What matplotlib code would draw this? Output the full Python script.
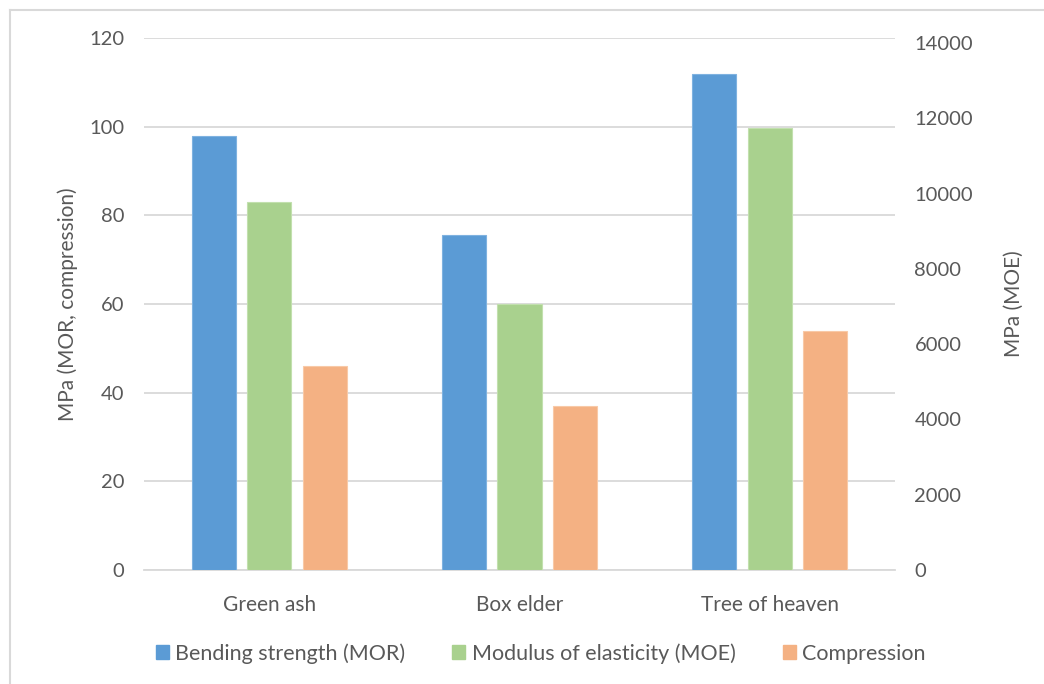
import matplotlib.pyplot as plt
from matplotlib.lines import Line2D
import numpy as np

plt.rcParams['font.family'] = ['Lato', 'DejaVu Sans']

# data
species = ['Green ash', 'Box elder', 'Tree of heaven']
mor = [97.9, 75.6, 111.8]          # MPa, left axis
moe = [9780, 7060, 11750]          # MPa, right axis
compression = [46.0, 37.1, 53.9]   # MPa, left axis

left_ticks = [0, 20, 40, 60, 80, 100, 120]
right_ticks = [0, 2000, 4000, 6000, 8000, 10000, 12000, 14000]

c_mor = '#5B9BD5'
c_moe = '#A9D18E'
c_comp = '#F4B183'
txt = '#595959'

fig = plt.figure(figsize=(10.44, 6.84), dpi=100)
ax = fig.add_axes([0.1379, 0.1667, 0.7194, 0.7777])
ax2 = ax.twinx()

x = np.arange(len(species))
w = 0.176
off = 0.222

ax.bar(x - off, mor, width=w, color=c_mor, edgecolor='#7FB2E0', linewidth=0.8, zorder=3)
ax2.bar(x, moe, width=w, color=c_moe, edgecolor='#C2E0AE', linewidth=0.8, zorder=3)
ax.bar(x + off, compression, width=w, color=c_comp, edgecolor='#F8C9A7', linewidth=0.8, zorder=3)

ax.set_xlim(-0.5, 2.5)
ax.set_ylim(0, 120)
ax2.set_ylim(0, 14130)
ax.set_yticks(left_ticks)
ax2.set_yticks(right_ticks)
ax.yaxis.grid(True, color='#D9D9D9', linewidth=1.3, zorder=0)
ax.set_axisbelow(True)

for a in (ax, ax2):
    for s in a.spines.values():
        s.set_visible(False)
    a.tick_params(length=0, labelsize=14.5, colors=txt, pad=14)
ax.tick_params(axis='x', pad=18, labelsize=15)
ax.set_xticks(x)
ax.set_xticklabels(species)
ax.spines['bottom'].set_visible(True)
ax.spines['bottom'].set_color('#D9D9D9')
ax.spines['bottom'].set_linewidth(1.3)

ax.set_ylabel('MPa (MOR, compression)', fontsize=15, color=txt, labelpad=8)
ax2.set_ylabel('MPa (MOE)', fontsize=15, color=txt, labelpad=22)

handles = [plt.Rectangle((0, 0), 1, 1, color=c) for c in (c_mor, c_moe, c_comp)]
fig.legend(handles, ['Bending strength (MOR)', 'Modulus of elasticity (MOE)', 'Compression'],
           loc='center', bbox_to_anchor=(0.518, 0.045), ncol=3, frameon=False,
           fontsize=15.5, labelcolor=txt, handlelength=0.6, handleheight=0.6,
           handletextpad=0.3, columnspacing=2.2)

# outer chart frame (only left and top edges show)
fig.add_artist(Line2D([10 / 1044, 10 / 1044], [0, 1 - 10 / 684], color='#D9D9D9', lw=1.5))
fig.add_artist(Line2D([10 / 1044, 1], [1 - 10 / 684, 1 - 10 / 684], color='#D9D9D9', lw=1.5))

fig.savefig('out.png', dpi=100)
